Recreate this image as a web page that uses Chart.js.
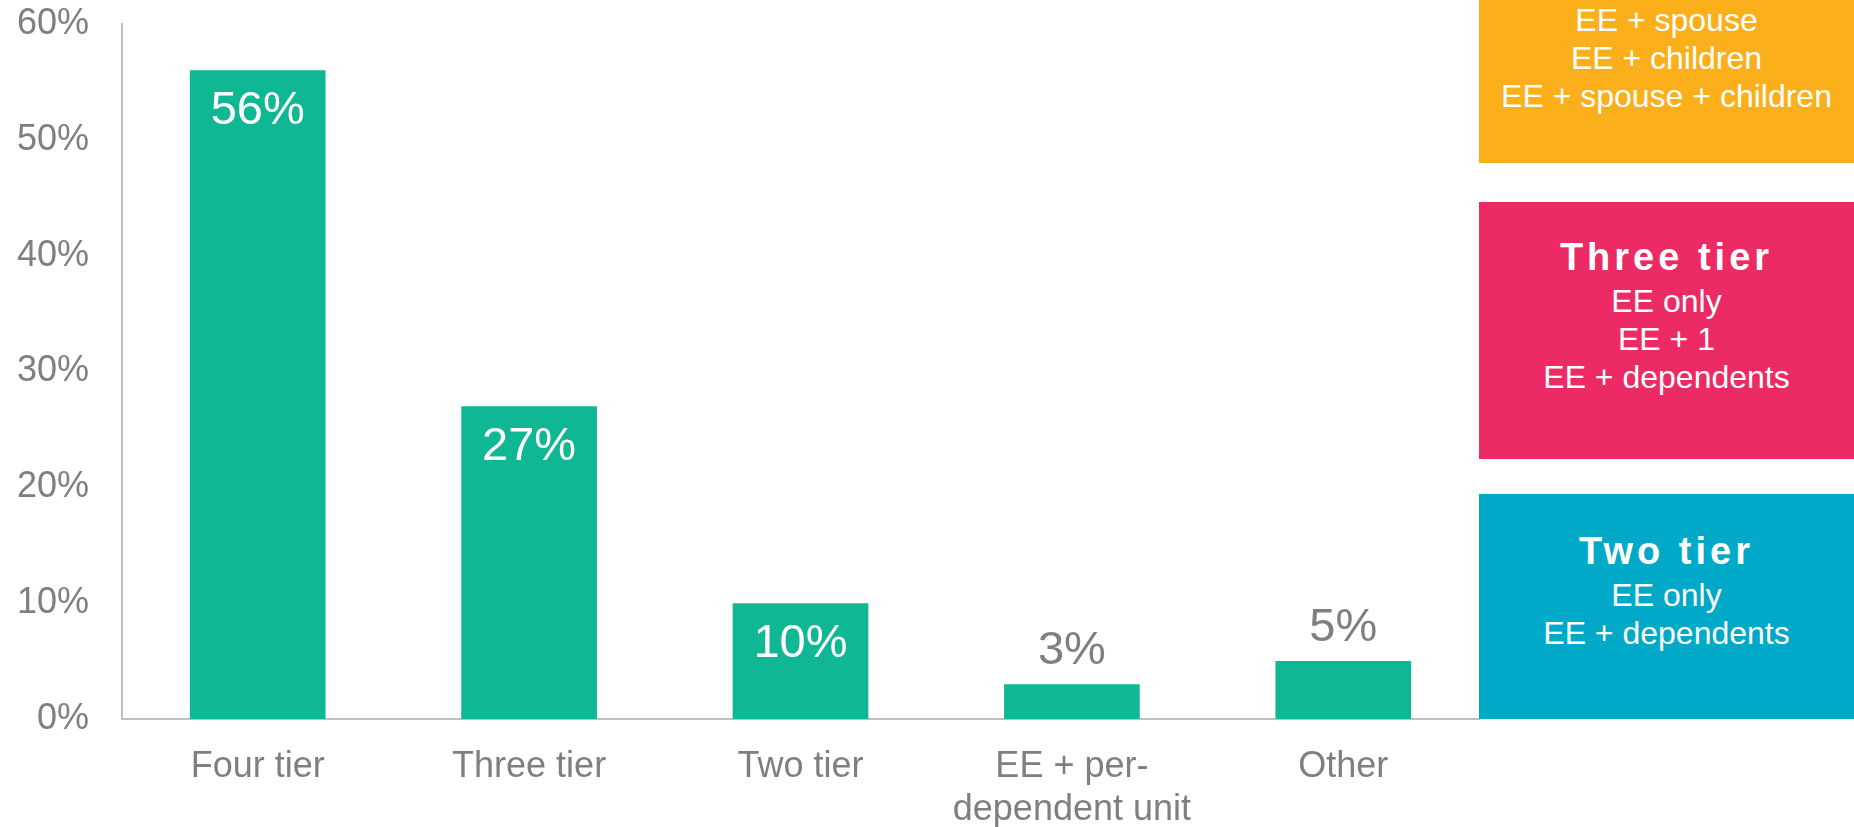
<!DOCTYPE html>
<html>
<head>
<meta charset="utf-8">
<script src="https://cdn.jsdelivr.net/npm/chart.js@4"></script>
<style>
    body { margin: 0; background: #fff; }
    #wrap { position: relative; width: 1854px; height: 827px; overflow: hidden; font-family: "Liberation Sans", Arial, sans-serif; }
    #chart { position: absolute; left: 0; top: 0; }
    .tier { position: absolute; left: 1479px; width: 375px; color: #fff; text-align: center; font-size: 32px; }
    .tier div { line-height: 38px; }
    .tier .title { font-weight: bold; font-size: 38px; letter-spacing: 4px; line-height: 50px; }
    #four { top: 0; height: 163px; background: #fbaf1a; padding-top: 1px; box-sizing: border-box; }
    #three { top: 202px; height: 257px; background: #ec2b65; padding-top: 30px; box-sizing: border-box; }
    #two { top: 494px; height: 225px; background: #00a9c7; padding-top: 32px; box-sizing: border-box; }
</style>
</head>
<body>
<div id="wrap">
    <canvas id="chart" width="1854" height="827"></canvas>
    <div class="tier" id="four">
        <div>EE + spouse</div>
        <div>EE + children</div>
        <div>EE + spouse + children</div>
    </div>
    <div class="tier" id="three">
        <div class="title">Three tier</div>
        <div>EE only</div>
        <div>EE + 1</div>
        <div>EE + dependents</div>
    </div>
    <div class="tier" id="two">
        <div class="title">Two tier</div>
        <div>EE only</div>
        <div>EE + dependents</div>
    </div>
</div>
<script>
const categories = ['Four tier', 'Three tier', 'Two tier', ['EE + per-', 'dependent unit'], 'Other'];
const shares = [56, 27, 10, 3, 5];
const yTicks = [0, 10, 20, 30, 40, 50, 60];

const FONT = '"Liberation Sans", Arial, sans-serif';
const GRAY = '#7f7f7f';

// value labels: big ones sit inside the bar in white, small ones above it in gray
const barLabels = {
    id: 'barLabels',
    afterDatasetsDraw(chart) {
        const ctx = chart.ctx;
        const meta = chart.getDatasetMeta(0);
        ctx.save();
        ctx.font = '47px ' + FONT;
        ctx.textAlign = 'center';
        ctx.textBaseline = 'middle';
        meta.data.forEach((bar, i) => {
            const v = shares[i];
            if (v >= 10) {
                ctx.fillStyle = '#ffffff';
                ctx.fillText(v + '%', bar.x, bar.y + 41);
            } else {
                ctx.fillStyle = GRAY;
                ctx.fillText(v + '%', bar.x, bar.y - 33);
            }
        });
        ctx.restore();
    }
};

new Chart(document.getElementById('chart'), {
    type: 'bar',
    data: {
        labels: categories,
        datasets: [
            {
                data: shares,
                backgroundColor: '#10b794',
                categoryPercentage: 1,
                barPercentage: 0.5
            }
        ]
    },
    options: {
        responsive: false,
        animation: false,
        devicePixelRatio: 1,
        layout: { padding: { top: 24, right: 375, left: 0, bottom: 0 } },
        plugins: {
            legend: { display: false },
            tooltip: { enabled: false }
        },
        scales: {
            x: {
                grid: { display: false, drawTicks: false },
                border: { display: true, color: '#c0c0c0', width: 2 },
                ticks: {
                    color: GRAY,
                    font: { family: FONT, size: 36, lineHeight: 1.2 },
                    padding: 26,
                    maxRotation: 0,
                    autoSkip: false
                },
                afterFit: (scale) => { scale.height = 108; }
            },
            y: {
                min: 0,
                max: 60,
                afterBuildTicks: (scale) => { scale.ticks = yTicks.map(v => ({ value: v })); },
                grid: { display: false, drawTicks: false },
                border: { display: true, color: '#c0c0c0', width: 2 },
                ticks: {
                    color: GRAY,
                    font: { family: FONT, size: 36 },
                    padding: 33,
                    callback: (v) => v + '%'
                },
                afterFit: (scale) => {
                    // tick padding is horizontal only; don't let it push the plot down
                    scale.width = 122;
                    scale.paddingTop = 22;
                    scale.paddingBottom = 22;
                }
            }
        }
    },
    plugins: [barLabels]
});
</script>
</body>
</html>
